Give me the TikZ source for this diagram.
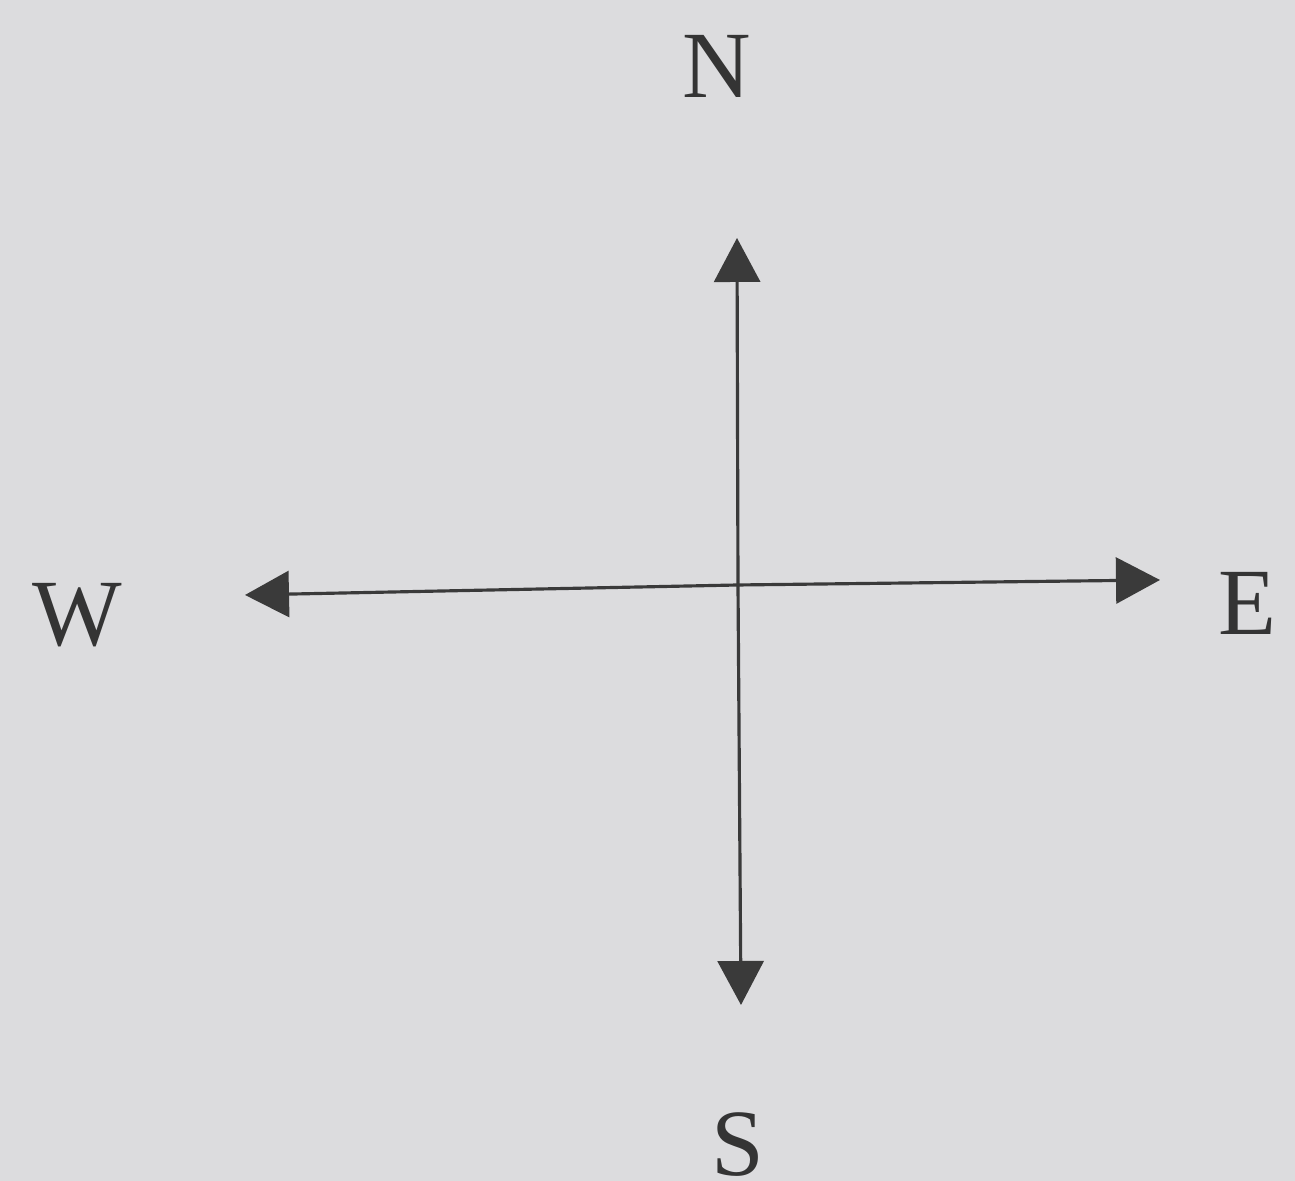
\documentclass[tikz,border=0pt]{standalone}
\usepackage{fontspec}
\setmainfont{Liberation Serif}
\usetikzlibrary{arrows.meta}
\definecolor{paper}{RGB}{220,220,222}
\definecolor{ink}{RGB}{58,58,58}
\begin{document}
\begin{tikzpicture}[
    compass/.style={ink, line width=0.9pt, -{Triangle[length=4.4mm,width=4.6mm]}},
    dirlabel/.style={text=ink!90!black, font=\fontsize{27}{30}\selectfont, inner sep=0pt}
]

% Background
\fill[paper] (0,0) rectangle (12.95,11.81);

% Centre and arrow tips
\coordinate (centre) at (7.38,5.96);
\coordinate (tipN) at (7.37,9.43);
\coordinate (tipS) at (7.41,1.76);
\coordinate (tipW) at (2.45,5.86);
\coordinate (tipE) at (11.60,6.01);

% Arrows
\draw[compass] (centre) -- (tipN);
\draw[compass] (centre) -- (tipS);
\draw[compass] (centre) -- (tipW);
\draw[compass] (centre) -- (tipE);

% Labels
\node[dirlabel] (labN) at (7.17,11.15) {N};
\node[dirlabel] (labS) at (7.38,0.36)  {S};
\node[dirlabel] (labW) at (0.77,5.66)  {W};
\node[dirlabel] (labE) at (12.47,5.78) {E};

\end{tikzpicture}
\end{document}
